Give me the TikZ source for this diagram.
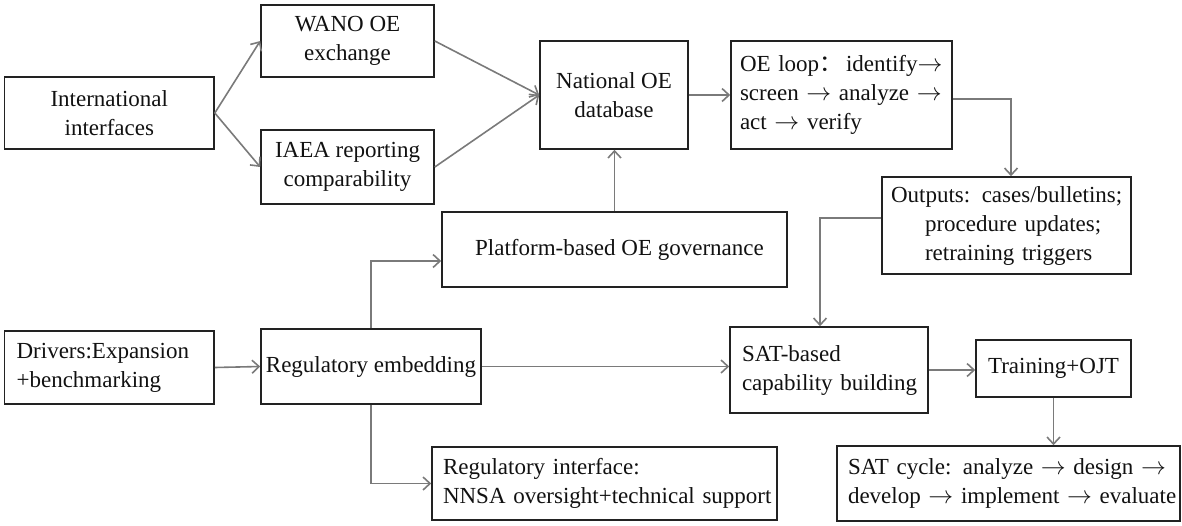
\documentclass[tikz,border=0pt]{standalone}
\usepackage{fontspec}
\setmainfont{Liberation Serif}
\newfontfamily\cjkfont{Noto Sans CJK SC}
\usetikzlibrary{arrows.meta}
\definecolor{edgec}{HTML}{7A7A7A}
\definecolor{boxc}{HTML}{222222}
\definecolor{txtc}{HTML}{111111}
\newcommand\lns[1]{\begin{tabular}{@{}l@{}}#1\end{tabular}}
\newcommand\ra{$\rightarrow$}
\begin{document}
\begin{tikzpicture}[x=1pt,y=-1pt,
  box/.style={draw=boxc, line width=1.6pt, text=txtc, inner sep=0pt, font=\fontsize{23}{29}\selectfont},
  cbox/.style={box, align=center},
  lbox/.style={box, align=left},
  conn/.style={draw=edgec, line width=1.6pt, -{Straight Barb[length=7pt,width=13pt]}}]
\useasboundingbox (0,0) rectangle (1182,525);

\node[cbox, minimum width=209.4pt, minimum height=72pt] (intl) at (109.3,113) {International\\interfaces};
\node[cbox, minimum width=173pt, minimum height=72pt] (wano) at (347.5,41) {WANO OE\\exchange};
\node[cbox, minimum width=173pt, minimum height=74pt] (iaea) at (347.5,167) {IAEA reporting\\comparability};
\node[cbox, minimum width=148pt, minimum height=108pt] (nat) at (614,95) {National OE\\database};
\node[lbox, text width=203pt, inner xsep=9pt, minimum height=108pt] (oe) at (841.5,95)
  {\lns{OE loop{\cjkfont ：}\,identify\ra\\screen \ra\ analyze \ra\\act \ra\ verify}};
\node[lbox, text width=231pt, inner xsep=9pt, minimum height=97pt] (out) at (1006.5,225.5)
  {\lns{Outputs: cases/bulletins;\\\hspace*{34pt}procedure updates;\\\hspace*{34pt}retraining triggers}};
\node[cbox, minimum width=345pt, minimum height=75pt] (plat) at (614.5,249.5) {\hspace*{10pt}Platform-based OE governance};
\node[lbox, text width=185.4pt, inner xsep=12pt, minimum height=73pt] (drv) at (109.3,367.5)
  {\lns{Drivers:Expansion\\+benchmarking}};
\node[cbox, minimum width=220pt, minimum height=75pt] (reg) at (371,366.5) {Regulatory embedding};
\node[lbox, text width=174pt, inner xsep=12pt, minimum height=86pt] (sat) at (829,370)
  {\lns{SAT-based\\capability building}};
\node[cbox, minimum width=155pt, minimum height=57pt] (train) at (1053.5,368.5) {Training+OJT};
\node[lbox, text width=323pt, inner xsep=11pt, minimum height=73pt] (regif) at (604.5,483.5)
  {\lns{Regulatory interface:\\NNSA oversight+technical support}};
\node[lbox, text width=321pt, inner xsep=11pt, minimum height=75pt] (cyc) at (1008.5,483.5)
  {\lns{SAT cycle: analyze \ra\ design \ra\\develop \ra\ implement \ra\ evaluate}};

\draw[conn] (intl.east) -- (wano.west);
\draw[conn] (intl.east) -- (iaea.west);
\draw[conn] (wano.east) -- (nat.west);
\draw[conn] (iaea.east) -- (nat.west);
\draw[conn] (nat.east) -- (oe.west);
\draw[conn] ([yshift=-4pt]oe.east) -| ([xshift=4.5pt]out.north);
\draw[conn] ([yshift=7.5pt]out.west) -| ([xshift=-9pt]sat.north);
\draw[conn] (plat.north) -- (plat.north |- nat.south);
\draw[conn] (drv.east) -- (reg.west);
\draw[conn] (reg.north) |- ([yshift=-11.5pt]plat.west);
\draw[conn] (reg.east) -- (reg.east -| sat.west);
\draw[conn] (reg.south) |- (regif.west);
\draw[conn] (sat.east) -- (sat.east -| train.west);
\draw[conn] (train.south) -- (train.south |- cyc.north);
\end{tikzpicture}
\end{document}
